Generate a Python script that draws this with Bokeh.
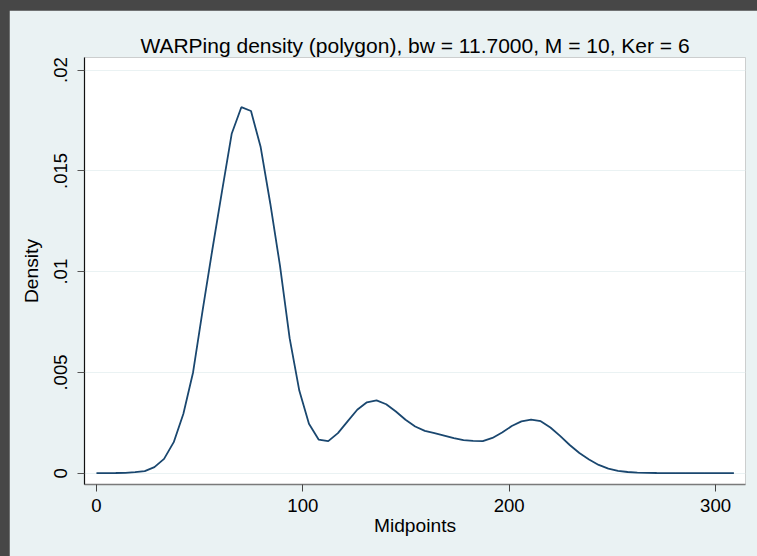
from bokeh.plotting import figure
from bokeh.models import FixedTicker, Range1d
from bokeh.layouts import column
from bokeh.embed import file_html
from bokeh.resources import INLINE

# ---- data ----
midpoints = [0, 4.68, 9.36, 14.04, 18.72, 23.4, 28.08, 32.76, 37.44, 42.12,
             46.8, 51.48, 56.16, 60.84, 65.52, 70.2, 74.88, 79.56, 84.24, 88.92,
             93.6, 98.28, 102.96, 107.64, 112.32, 117.0, 121.68, 126.36, 131.04, 135.72,
             140.4, 145.08, 149.76, 154.44, 159.12, 163.8, 168.48, 173.16, 177.84, 182.52,
             187.2, 191.88, 196.56, 201.24, 205.92, 210.6, 215.28, 219.96, 224.64, 229.32,
             234.0, 238.68, 243.36, 248.04, 252.72, 257.4, 262.08, 266.76, 271.44, 276.12,
             280.8, 285.48, 290.16, 294.84, 299.52, 304.2, 308.88]
density = [0.0, 0.000003, 0.00001, 0.00002, 0.00005, 0.0001, 0.0003, 0.00071, 0.00154, 0.00295,
           0.0050, 0.0081, 0.0111, 0.0140, 0.01684, 0.01816, 0.01797, 0.01618, 0.01337, 0.0103,
           0.0067, 0.0041, 0.00245, 0.00167, 0.00159, 0.00199, 0.00257, 0.00315, 0.00352, 0.00361,
           0.00342, 0.00306, 0.00265, 0.00232, 0.00210, 0.00199, 0.00187, 0.00174, 0.00164, 0.00160,
           0.00159, 0.00175, 0.00202, 0.00234, 0.00257, 0.00266, 0.00258, 0.00227, 0.00185, 0.00140,
           0.00100, 0.00068, 0.00041, 0.00023, 0.00012, 0.00006, 0.00003, 0.000015, 0.00001, 0.000007,
           0.000005, 0.000003, 0.000002, 0.000001, 0.0, 0.0, 0.0]

x_ticks = [0, 100, 200, 300]
y_ticks = [0, 0.005, 0.01, 0.015, 0.02]
y_tick_labels = ["0", ".005", ".01", ".015", ".02"]

title_text = "WARPing density (polygon), bw = 11.7000, M = 10, Ker = 6"
x_label = "Midpoints"
y_label = "Density"

FONT = "Liberation Sans"
BG = "#EAF2F3"
LINE = "#1A476F"

p = figure(width=748, height=546, output_backend="svg", toolbar_location=None,
           x_range=Range1d(-5.8, 314.5), y_range=Range1d(-0.00056, 0.020625),
           min_border_left=75, min_border_right=12, min_border_top=47, min_border_bottom=72)
p.margin = (10, 0, 0, 9)
p.border_fill_color = BG
p.background_fill_color = "white"
p.outline_line_color = None

p.title.text = title_text
p.title.align = "center"
p.title.text_font = FONT
p.title.text_font_size = "21px"
p.title.text_font_style = "normal"
p.title.text_color = "black"
p.title.standoff = 1

p.line(midpoints, density, line_color=LINE, line_width=1.8)

# grids
p.xgrid.visible = False
p.ygrid.grid_line_color = BG
p.ygrid.grid_line_width = 1.2
p.ygrid.ticker = FixedTicker(ticks=y_ticks)

# x axis
xa = p.xaxis[0]
xa.ticker = FixedTicker(ticks=x_ticks)
xa.minor_tick_line_color = None
xa.major_tick_in = 0
xa.major_tick_out = 7
xa.major_tick_line_color = "#444444"
xa.axis_line_color = "#7a7a7a"
xa.axis_line_width = 1.5
xa.major_label_text_font = FONT
xa.major_label_text_font_size = "18.6px"
xa.major_label_text_color = "black"
xa.major_label_standoff = 7
xa.axis_label = x_label
xa.axis_label_text_font = FONT
xa.axis_label_text_font_size = "19.2px"
xa.axis_label_text_font_style = "normal"
xa.axis_label_text_color = "black"
xa.axis_label_standoff = 0

# y axis
ya = p.yaxis[0]
ya.ticker = FixedTicker(ticks=y_ticks)
ya.major_label_overrides = {t: l for t, l in zip(y_ticks, y_tick_labels)}
ya.minor_tick_line_color = None
ya.major_tick_in = 0
ya.major_tick_out = 7
ya.major_tick_line_color = "#555555"
ya.axis_line_color = "#111111"
ya.axis_line_width = 1.2
ya.major_label_orientation = "vertical"
ya.major_label_text_font = FONT
ya.major_label_text_font_size = "18.6px"
ya.major_label_text_color = "black"
ya.major_label_standoff = 10
ya.axis_label = y_label
ya.axis_label_text_font = FONT
ya.axis_label_text_font_size = "19.2px"
ya.axis_label_text_font_style = "normal"
ya.axis_label_text_color = "black"
ya.axis_label_standoff = 10

layout = column(p, width=757, height=556, styles={"background-color": "#474747"})

open("out.html", "w").write(file_html(layout, INLINE))
